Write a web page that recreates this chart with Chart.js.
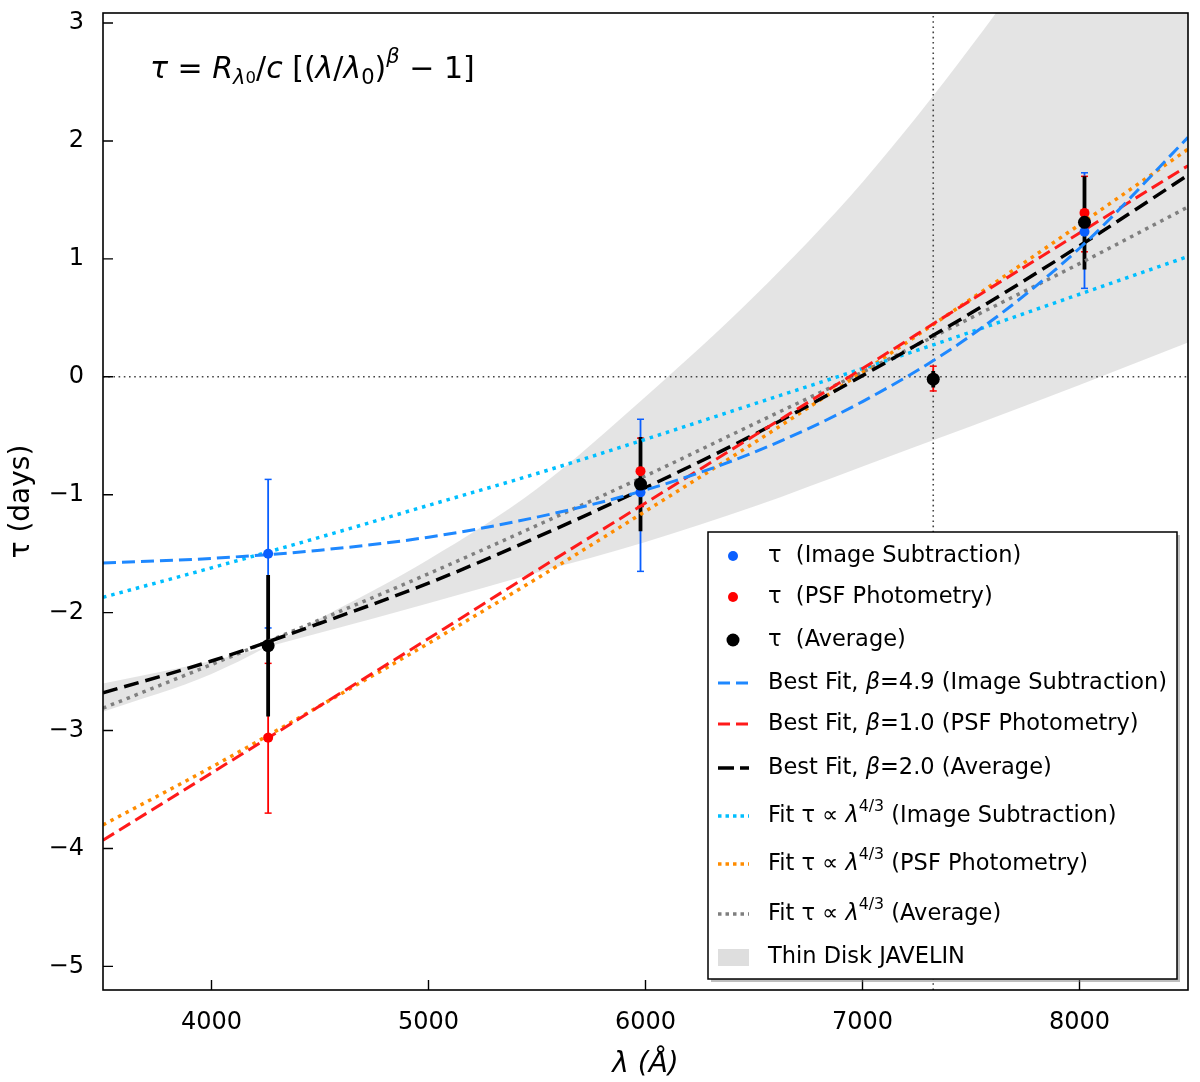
<!DOCTYPE html>
<html>
<head>
<meta charset="utf-8">
<script src="https://cdn.jsdelivr.net/npm/chart.js@4.4.0/dist/chart.umd.min.js"></script>
<style>
  html, body { margin: 0; padding: 0; background: #fff; }
  #wrap { width: 1200px; height: 1082px; }
</style>
</head>
<body>
<div id="wrap"><canvas id="chart" width="1200" height="1082"></canvas></div>
<script>
const FONT = "'DejaVu Sans', 'Noto Sans', sans-serif";

// axis ticks
const xTicks = [4000, 5000, 6000, 7000, 8000];
const yTicks = [-5, -4, -3, -2, -1, 0, 1, 2, 3];

// measured lags (days) at the filter wavelengths
const obsWave = [4261, 5977, 7326, 8023];
const imgSubTau = [-1.50, -0.98, null, 1.23];
const imgSubLo = [-2.13, -1.65, null, 0.75];
const imgSubHi = [-0.87, -0.36, null, 1.73];
const psfTau = [-3.06, -0.80, -0.01, 1.39];
const psfLo = [-3.70, -1.10, -0.12, 1.06];
const psfHi = [-2.43, -0.52, 0.09, 1.70];
const avgTau = [-2.28, -0.91, -0.02, 1.31];
const avgLo = [-2.88, -1.31, -0.09, 0.91];
const avgHi = [-1.68, -0.51, 0.05, 1.70];

// fitted curves
const fitWave = [3500, 4000, 4500, 5000, 5500, 6000, 6500, 7000, 7500, 8000, 8500];
const bestImgSub = [-1.58, -1.54, -1.47, -1.36, -1.19, -0.96, -0.64, -0.21, 0.35, 1.09, 2.03];
const bestPsf = [-3.93, -3.36, -2.79, -2.22, -1.64, -1.07, -0.50, 0.07, 0.65, 1.22, 1.79];
const bestAvg = [-2.68, -2.41, -2.09, -1.75, -1.36, -0.94, -0.49, 0.01, 0.54, 1.11, 1.71];
const thinImgSub = [-1.87, -1.62, -1.36, -1.09, -0.82, -0.53, -0.23, 0.07, 0.38, 0.70, 1.02];
const thinPsf = [-3.80, -3.31, -2.79, -2.26, -1.71, -1.14, -0.56, 0.04, 0.66, 1.29, 1.93];
const thinAvg = [-2.81, -2.44, -2.06, -1.67, -1.26, -0.84, -0.40, 0.04, 0.50, 0.96, 1.44];
const javelinHi = [-2.84, -2.52, -2.05, -1.55, -0.95, -0.17, 0.68, 1.65, 2.80, 4.10, 5.60];
const javelinLo = [-2.60, -2.41, -2.17, -1.92, -1.66, -1.40, -1.10, -0.76, -0.42, -0.07, 0.29];

// reference lines
const refWave = 7326;

const pts = (xs, ys) => xs.map((x, i) => ({ x: x, y: ys[i] }));
const errPts = (xs, lo, hi) => {
  const out = [];
  xs.forEach((x, i) => {
    if (lo[i] === null) return;
    out.push({ x: x, y: lo[i] }, { x: x, y: hi[i] }, { x: x, y: null });
  });
  return out;
};

const curve = (data, color, dash, width, order) => ({
  data: data, borderColor: color, borderWidth: width, borderDash: dash,
  borderCapStyle: 'butt', pointRadius: 0, fill: false,
  cubicInterpolationMode: 'monotone', order: order
});
const errSet = (data, color, width, cap, order) => ({
  data: data, borderColor: color, borderWidth: width, spanGaps: false,
  pointStyle: 'line', pointRadius: cap, pointBorderColor: color,
  pointBorderWidth: 1.5, fill: false, order: order
});
const dotSet = (data, color, r, order) => ({
  data: data, showLine: false, pointRadius: r, pointBackgroundColor: color,
  pointBorderColor: color, pointBorderWidth: 0, order: order
});

const datasets = [
  { data: pts(fitWave, javelinLo), borderWidth: 0, pointRadius: 0, fill: false,
    cubicInterpolationMode: 'monotone', order: 30 },
  { data: pts(fitWave, javelinHi), borderWidth: 0, pointRadius: 0,
    fill: '-1', backgroundColor: 'rgba(211,211,211,0.62)',
    cubicInterpolationMode: 'monotone', order: 29 },
  { data: [{ x: 3500, y: 0 }, { x: 8500, y: 0 }], borderColor: '#444', borderWidth: 1.6,
    borderDash: [1.6, 3.6], pointRadius: 0, order: 28 },
  { data: [{ x: refWave, y: -5.2 }, { x: refWave, y: 3.085 }], borderColor: '#444', borderWidth: 1.6,
    borderDash: [1.6, 3.6], pointRadius: 0, order: 27 },
  errSet(errPts(obsWave, imgSubLo, imgSubHi), '#0a5fff', 1.8, 3.5, 20),
  errSet(errPts(obsWave, psfLo, psfHi), '#ff0000', 1.8, 3.5, 19),
  errSet(errPts(obsWave, avgLo, avgHi), '#000000', 3.8, 0, 18),
  curve(pts(fitWave, thinAvg), '#7f7f7f', [3.5, 5], 3.5, 12),
  curve(pts(fitWave, thinPsf), '#ff8c00', [3.5, 5], 3.5, 11),
  curve(pts(fitWave, thinImgSub), '#00bfff', [3.5, 5], 3.5, 10),
  curve(pts(fitWave, bestAvg), '#000000', [15, 7], 3.5, 9),
  curve(pts(fitWave, bestPsf), '#ff1a1a', [13, 6], 3, 8),
  curve(pts(fitWave, bestImgSub), '#1e88ff', [13, 6], 3, 7),
  dotSet(pts(obsWave, imgSubTau), '#0a5fff', 5, 3),
  dotSet(pts(obsWave, psfTau), '#ff0000', 5, 2),
  dotSet(pts(obsWave, avgTau), '#000000', 6.5, 1)
];

// legend entries
const legendItems = [
  { kind: 'dot', color: '#0a5fff', r: 5, gap: 0,
    text: [{ t: 'τ  (Image Subtraction)' }] },
  { kind: 'dot', color: '#ff0000', r: 5, gap: 41,
    text: [{ t: 'τ  (PSF Photometry)' }] },
  { kind: 'dot', color: '#000000', r: 6.5, gap: 43,
    text: [{ t: 'τ  (Average)' }] },
  { kind: 'line', color: '#1e88ff', dash: [12, 6], w: 3, gap: 43,
    text: [{ t: 'Best Fit, ' }, { t: 'β', it: true }, { t: '=4.9 (Image Subtraction)' }] },
  { kind: 'line', color: '#ff1a1a', dash: [12, 6], w: 3, gap: 41,
    text: [{ t: 'Best Fit, ' }, { t: 'β', it: true }, { t: '=1.0 (PSF Photometry)' }] },
  { kind: 'line', color: '#000000', dash: [16, 6], w: 3.5, gap: 44,
    text: [{ t: 'Best Fit, ' }, { t: 'β', it: true }, { t: '=2.0 (Average)' }] },
  { kind: 'line', color: '#00bfff', dash: [3.5, 4], w: 3.5, gap: 48,
    text: [{ t: 'Fit τ ∝ ' }, { t: 'λ', it: true }, { t: '4/3', sup: true }, { t: ' (Image Subtraction)' }] },
  { kind: 'line', color: '#ff8c00', dash: [3.5, 4], w: 3.5, gap: 48,
    text: [{ t: 'Fit τ ∝ ' }, { t: 'λ', it: true }, { t: '4/3', sup: true }, { t: ' (PSF Photometry)' }] },
  { kind: 'line', color: '#7f7f7f', dash: [3.5, 4], w: 3.5, gap: 50,
    text: [{ t: 'Fit τ ∝ ' }, { t: 'λ', it: true }, { t: '4/3', sup: true }, { t: ' (Average)' }] },
  { kind: 'patch', color: 'rgba(211,211,211,0.75)', gap: 43,
    text: [{ t: 'Thin Disk JAVELIN' }] }
];

const formula = [
  { t: 'τ', it: true }, { t: ' = ' }, { t: 'R', it: true }, { t: 'λ', it: true, sub: true },
  { t: '0', sub: true, small: true }, { t: '/' }, { t: 'c', it: true }, { t: ' [(' },
  { t: 'λ', it: true }, { t: '/' }, { t: 'λ', it: true }, { t: '0', sub: true }, { t: ')' },
  { t: 'β', it: true, sup: true }, { t: ' − 1]' }
];

function drawRich(ctx, segs, x, y, size) {
  ctx.textBaseline = 'middle';
  ctx.textAlign = 'left';
  segs.forEach(s => {
    const small = s.sup || s.sub;
    let sz = small ? size * 0.7 : size;
    if (s.small) sz = size * 0.55;
    ctx.font = (s.it ? 'italic ' : '') + sz + 'px ' + FONT;
    const dy = s.sup ? -size * 0.42 : (s.sub ? size * 0.3 : 0);
    ctx.fillText(s.t, x, y + dy);
    x += ctx.measureText(s.t).width;
  });
}

const decorPlugin = {
  id: 'decor',
  afterDraw(chart) {
    const ctx = chart.ctx;
    const a = chart.chartArea;
    const xs = chart.scales.x, ys = chart.scales.y;
    ctx.save();
    // frame
    ctx.strokeStyle = '#000';
    ctx.lineWidth = 1.6;
    ctx.strokeRect(a.left, a.top, a.right - a.left, a.bottom - a.top);
    // inward ticks
    ctx.lineWidth = 1.4;
    ctx.beginPath();
    xTicks.forEach(v => {
      const px = xs.getPixelForValue(v);
      ctx.moveTo(px, a.bottom); ctx.lineTo(px, a.bottom - 10);
    });
    yTicks.forEach(v => {
      const py = ys.getPixelForValue(v);
      ctx.moveTo(a.left, py); ctx.lineTo(a.left + 10, py);
    });
    ctx.stroke();

    // formula
    ctx.fillStyle = '#000';
    drawRich(ctx, formula, a.left + 47, 70, 30);

    // legend box
    const bx = 708, by = 532, bw = 469, bh = 447;
    ctx.fillStyle = 'rgba(128,128,128,0.5)';
    ctx.fillRect(bx + 3, by + 3, bw, bh);
    ctx.fillStyle = '#fff';
    ctx.fillRect(bx, by, bw, bh);
    ctx.strokeStyle = '#000';
    ctx.lineWidth = 1.5;
    ctx.strokeRect(bx, by, bw, bh);

    let y = 556;
    legendItems.forEach(it => {
      y += it.gap;
      if (it.kind === 'dot') {
        ctx.fillStyle = it.color;
        ctx.beginPath(); ctx.arc(733, y, it.r, 0, Math.PI * 2); ctx.fill();
      } else if (it.kind === 'line') {
        ctx.strokeStyle = it.color;
        ctx.lineWidth = it.w;
        ctx.lineCap = 'butt';
        ctx.setLineDash(it.dash);
        ctx.beginPath(); ctx.moveTo(718, y); ctx.lineTo(749, y); ctx.stroke();
        ctx.setLineDash([]);
      } else {
        ctx.fillStyle = it.color;
        ctx.fillRect(718, y - 8, 31, 17);
      }
      ctx.fillStyle = '#000';
      drawRich(ctx, it.text, 768, y, 22.5);
    });
    ctx.restore();
  }
};

const ctx = document.getElementById('chart').getContext('2d');

new Chart(ctx, {
  type: 'line',
  data: { datasets: datasets },
  options: {
    responsive: false,
    animation: false,
    events: [],
    layout: { padding: { top: 13, right: 12, left: 0, bottom: 0 } },
    plugins: {
      legend: { display: false },
      tooltip: { enabled: false }
    },
    scales: {
      x: {
        type: 'linear',
        min: 3500,
        max: 8500,
        afterBuildTicks: s => { s.ticks = xTicks.map(v => ({ value: v })); },
        afterFit: s => { s.height = 92; s.paddingLeft = 0; s.paddingRight = 0; },
        grid: { display: false },
        border: { display: false },
        ticks: {
          color: '#000', padding: 10,
          font: { size: 24, family: FONT },
          maxRotation: 0,
          callback: v => String(v)
        },
        title: {
          display: true, text: 'λ (Å)', color: '#000',
          font: { size: 28, style: 'italic', family: FONT },
          padding: { top: 0, bottom: 0 }
        }
      },
      y: {
        type: 'linear',
        min: -5.2,
        max: 3.085,
        afterBuildTicks: s => { s.ticks = yTicks.map(v => ({ value: v })); },
        afterFit: s => { s.width = 103; s.paddingTop = 0; s.paddingBottom = 0; },
        grid: { display: false },
        border: { display: false },
        ticks: {
          color: '#000', padding: 11,
          font: { size: 24, family: FONT },
          callback: v => String(v).replace('-', '−')
        },
        title: {
          display: true, text: 'τ (days)', color: '#000',
          font: { size: 28, family: FONT },
          padding: { top: 5, bottom: 0 }
        }
      }
    }
  },
  plugins: [decorPlugin]
});
</script>
</body>
</html>
